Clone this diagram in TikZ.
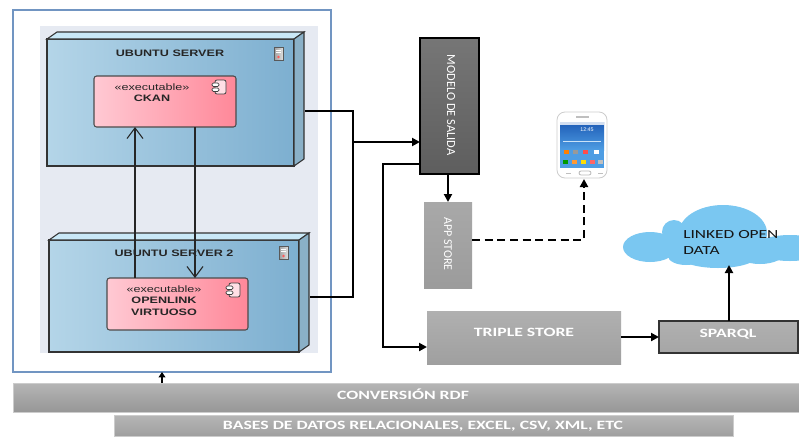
\documentclass[tikz,border=0pt]{standalone}
\usepackage{fontspec}
\setmainfont{Liberation Sans}
\newfontfamily\umlfont[FakeStretch=1.35]{Liberation Sans}
\newfontfamily\boxfont[FakeStretch=1.4]{Carlito}
\newfontfamily\vertfont{Carlito}
\usetikzlibrary{arrows.meta,calc}

\definecolor{frameblue}{HTML}{7195C2}
\definecolor{innerbg}{HTML}{E6EAF2}
\definecolor{nodeL}{HTML}{B4D5E8}
\definecolor{nodeR}{HTML}{7DAFD0}
\definecolor{nodeTop}{HTML}{C9E8F7}
\definecolor{nodeSide}{HTML}{8AB0C7}
\definecolor{compL}{HTML}{FFC9D3}
\definecolor{compR}{HTML}{FF8899}
\definecolor{cloudblue}{HTML}{7AC7F1}
\definecolor{screenT}{HTML}{1E5CB6}
\definecolor{screenB}{HTML}{4E9DE3}
\definecolor{modelT}{HTML}{767676}
\definecolor{modelB}{HTML}{5E5E5E}

\tikzset{
  dims/.style 2 args={minimum width=#1*0.75pt, minimum height=#2*0.75pt, inner sep=0pt, outer sep=0pt},
  umltext/.style={font=\umlfont\fontsize{7}{8.6}\selectfont, align=center, text=black!85, inner sep=0pt},
  boxtext/.style={font=\boxfont\bfseries\fontsize{9.5}{11}\selectfont, text=white, inner sep=0pt},
  verttext/.style={font=\vertfont\fontsize{9.3}{11}\selectfont, text=white, rotate=-90, inner sep=0pt},
  conn/.style={line width=1.5pt, black},
  tip/.style={-{Triangle[length=6pt,width=6pt]}},
  umlarrow/.style={line width=0.8pt, black!85, -{Straight Barb[length=8pt,width=12pt,line width=0.8pt]}},
  nodeface/.style={draw=black!80, line width=0.8pt, left color=nodeL, right color=nodeR},
  compbox/.style={draw=black!70, line width=0.8pt, rounded corners=2pt, left color=compL, right color=compR},
  servericon/.pic={
    \draw[draw=black!65, left color=gray!75, right color=gray!25, line width=0.4pt] (0,0) rectangle (9,13);
    \draw[white, line width=0.5pt] (2,3) -- (7,3) (2,5.5) -- (7,5.5);
    \fill[red!65] (4.5,10) circle (1.3);
  },
  compicon/.pic={
    \draw[draw=black!75, fill=compL!60, line width=0.6pt, rounded corners=1.5pt] (3,0) rectangle (14,14);
    \draw[draw=black!75, fill=white, line width=0.6pt, rounded corners=1pt] (0,3) rectangle (7,6.5);
    \draw[draw=black!75, fill=white, line width=0.6pt, rounded corners=1pt] (0,8) rectangle (7,11.5);
  }
}

\begin{document}
\begin{tikzpicture}[x=0.75pt,y=-0.75pt]
\useasboundingbox (0,0) rectangle (799,436);
\fill[white] (0,0) rectangle (799,436);

% deployment frame and its shaded background
\node[dims={318}{362}, draw=frameblue, line width=0.8pt, fill=white] (frame) at (172,191) {};
\node[dims={278}{327}, fill=innerbg] (inner) at (179,189.5) {};

% server node 1 (3D box)
\node[dims={247}{127}, nodeface] (srv1) at (170.5,102.5) {};
\filldraw[draw=black!80, line width=0.8pt, fill=nodeTop]
  (srv1.north west) -- ++(10,-7) -- ++(247,0) -- (srv1.north east) -- cycle;
\filldraw[draw=black!80, line width=0.8pt, fill=nodeSide]
  (srv1.north east) -- ++(10,-7) -- ++(0,127) -- (srv1.south east) -- cycle;
\node[umltext, font=\umlfont\bfseries\fontsize{7}{8.6}\selectfont] (srv1lbl) at (170,53) {UBUNTU SERVER};
\pic at (274,47) {servericon};

% server node 2 (3D box)
\node[dims={250}{112}, nodeface] (srv2) at (174,296) {};
\filldraw[draw=black!80, line width=0.8pt, fill=nodeTop]
  (srv2.north west) -- ++(10,-7) -- ++(250,0) -- (srv2.north east) -- cycle;
\filldraw[draw=black!80, line width=0.8pt, fill=nodeSide]
  (srv2.north east) -- ++(10,-7) -- ++(0,112) -- (srv2.south east) -- cycle;
\node[umltext, font=\umlfont\bfseries\fontsize{7}{8.6}\selectfont] (srv2lbl) at (174,253) {UBUNTU SERVER 2};
\pic at (279,246) {servericon};

% executable components
\node[dims={142}{51}, compbox] (ckan) at (165,101.5) {};
\node[umltext] (ckanlbl) at (152,92.5) {«executable»\\\textbf{CKAN}};
\pic at (212,80) {compicon};

\node[dims={141}{52}, compbox] (virt) at (177.5,304) {};
\node[umltext] (virtlbl) at (164,300.5) {«executable»\\\textbf{OPENLINK}\\\textbf{VIRTUOSO}};
\pic at (226,283) {compicon};

% links between the two components
\coordinate (upx) at (135,0);
\coordinate (downx) at (195,0);
\draw[umlarrow] (virt.north -| upx) -- (ckan.south -| upx);
\draw[umlarrow] (ckan.south -| downx) -- (virt.north -| downx);

% output model and app store
\node[dims={59}{136}, draw=black, line width=0.8pt, top color=modelT, bottom color=modelB] (modelo) at (449.5,106) {};
\node[verttext] (modlbl) at (451,105) {MODELO DE SALIDA};
\node[dims={48}{86}, top color=gray!68, bottom color=gray!78] (app) at (448,245) {};
\node[verttext, font=\vertfont\fontsize{9}{11}\selectfont] (applbl) at (448,244) {APP STORE};

% triple store and SPARQL endpoint
\node[dims={194}{53}, top color=gray!62, bottom color=gray!75] (triple) at (524,337.5) {};
\node[boxtext] (triplbl) at (524,332) {TRIPLE STORE};
\node[dims={139}{32}, draw=black!80, line width=0.8pt, top color=gray!62, bottom color=gray!70] (sparql) at (728.5,337) {};
\node[boxtext] (sparqllbl) at (728,334) {SPARQL};

% bottom layers
\node[dims={786}{29}, draw=gray!40, line width=0.5pt, top color=gray!58, bottom color=gray!82] (conv) at (406,397.5) {};
\node[boxtext] (convlbl) at (403,394) {CONVERSIÓN RDF};
\node[dims={619}{21}, draw=gray!40, line width=0.5pt, top color=gray!58, bottom color=gray!75] (bases) at (423.5,425.5) {};
\node[boxtext] (baseslbl) at (423,426) {BASES DE DATOS RELACIONALES, EXCEL, CSV, XML, ETC};

% linked open data cloud
\begin{scope}
  \clip (0,0) rectangle (799,436);
  \fill[cloudblue] (650,247) ellipse (27 and 15);
  \fill[cloudblue] (674,232) circle (12);
  \fill[cloudblue] (692,245) ellipse (22 and 15);
  \fill[cloudblue] (723,233) ellipse (44 and 28);
  \fill[cloudblue] (790,248) ellipse (36 and 13);
  \fill[cloudblue] (718,255) ellipse (40 and 13);
  \fill[cloudblue] (686,256) ellipse (18 and 9);
  \fill[cloudblue] (760,252) ellipse (25 and 12);
\end{scope}
\node[coordinate] (cloud) at (729,265) {};
\node[anchor=north west, align=left, font=\boxfont\fontsize{9.3}{12}\selectfont, text=black!92, inner sep=0pt] (lodlbl) at (683,230) {LINKED OPEN\\DATA};

% smartphone
\node[dims={50}{66}, draw=gray!40, line width=0.6pt, fill=white, rounded corners=6pt] (phone) at (582,145) {};
\fill[screenB] (560,122) rectangle (604,168);
\shade[top color=screenT, bottom color=screenB] (560,122) rectangle (604,150);
\draw[gray!50, line width=0.8pt] (576,117) -- (589,117);
\fill[white!80!screenT] (560,122) rectangle (604,125);
\node[font=\fontsize{4}{4}\selectfont, text=white, inner sep=0pt] (clock) at (587,130) {12:45};
\draw[white!70!screenB, line width=0.3pt] (563,141) -- (601,141);
\foreach \ix/\c in {566/orange, 575/gray!80, 585/red!70, 596/white} {
  \fill[\c] (\ix-2.5,150) rectangle (\ix+2.5,154);
}
\foreach \ix/\c in {565/green!60!black, 574/orange!80, 583/yellow!80!orange, 592/red!60, 600/gray!50} {
  \fill[\c] (\ix-2.5,160) rectangle (\ix+2.5,164);
}
\draw[gray!55, line width=0.6pt, rounded corners=1.5pt] (579,171) rectangle (591,175);
\draw[gray!50, line width=0.5pt] (566,173) -- (571,173) (598,173) -- (603,173);
\coordinate (phonein) at (584,179);

% connectors
\coordinate (s1out) at (305,111);
\coordinate (s2out) at (310,297);
\coordinate (jtop) at (353,111);
\coordinate (jbot) at (353,297);
\coordinate (jmid) at (353,142);
\draw[conn] (s1out) -- (jtop) -- (jbot) -- (s2out);
\draw[conn, tip] (jmid) -- (jmid -| modelo.west);

\coordinate (mout) at ($(modelo.west)+(0,58)$);
\coordinate (corner1) at (383,164);
\coordinate (corner2) at (383,347);
\draw[conn, tip] (mout) -- (corner1) -- (corner2) -- (corner2 -| triple.west);

\draw[conn, tip] (modelo.south -| app.north) -- (app.north);

\coordinate (dcorner) at (584,240);
\draw[line width=1.8pt, dash pattern=on 6pt off 3.5pt, -{Triangle[length=6pt,width=6pt]}] (app.east |- dcorner) -- (dcorner) -- (phonein);

\draw[conn, tip] (triple.east |- sparql.west) -- (sparql.west);
\draw[conn, tip] (sparql.north -| cloud) -- (cloud);

\draw[conn, -{Triangle[length=4pt,width=5pt]}] (conv.north -| 162,0) -- (frame.south -| 162,0);
\end{tikzpicture}
\end{document}
